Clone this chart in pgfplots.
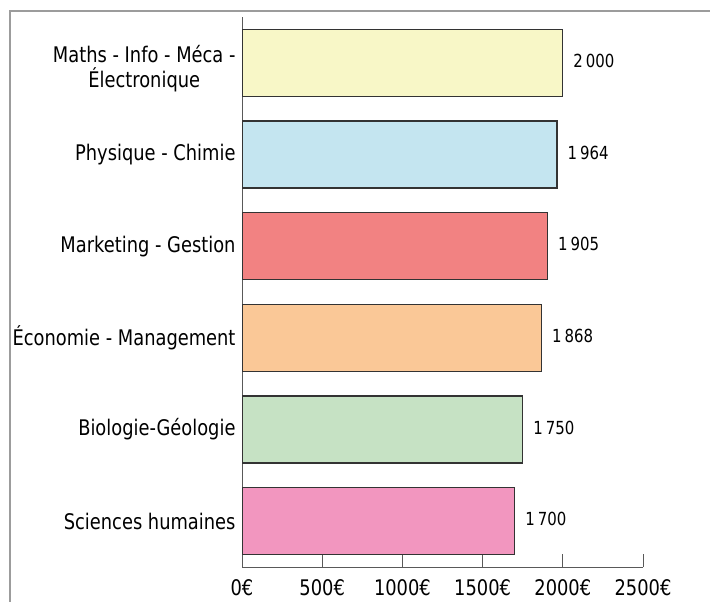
\documentclass[border=0pt]{standalone}
\usepackage{pgfplots}
\pgfplotsset{compat=1.18}
\usepackage{fontspec}
\setmainfont{DejaVu Sans}[FakeStretch=0.83]
\definecolor{cMath}{HTML}{F8F7C7}
\definecolor{cPhys}{HTML}{C4E5F0}
\definecolor{cMark}{HTML}{F28282}
\definecolor{cEco}{HTML}{FAC897}
\definecolor{cBio}{HTML}{C6E2C4}
\definecolor{cSci}{HTML}{F296BF}
\definecolor{framegray}{HTML}{9C9C9C}
\newcommand\lbl{\fontsize{21.5bp}{25bp}\selectfont}
\newcommand\vlbl{\fontsize{18bp}{21bp}\selectfont}
\begin{document}
\begin{tikzpicture}
\path[use as bounding box] (0,0) rectangle (710bp,-602bp);
\draw[color=framegray, line width=2.5bp] (10bp,-620bp) -- (10bp,-11bp) -- (720bp,-11bp);
\begin{axis}[
  at={(242bp,-567bp)}, anchor=south west,
  scale only axis, width=401bp, height=550bp,
  xmin=0, xmax=2500, ymin=-0.5, ymax=5.5,
  axis x line*=bottom, axis y line*=left,
  axis line style={draw=black!65, line width=1bp},
  xtick={0,500,1000,1500,2000,2500},
  xticklabels={0€,500€,1000€,1500€,2000€,2500€},
  xtick align=inside, ytick align=inside, major tick length=13bp,
  x tick style={draw=black!65, line width=1bp},
  xticklabel style={font=\lbl, yshift=-9bp},
  ytick={0,1,2,3,4,5},
  yticklabels={Sciences humaines, Biologie-Géologie, Économie - Management, Marketing - Gestion, Physique - Chimie, {\rule{0pt}{28bp}Maths - Info - Méca -\\Électronique}},
  y tick style={draw=none},
  yticklabel style={font=\lbl, align=center, xshift=10bp},
  xbar, bar width=0.73,
  point meta=x,
  nodes near coords,
  nodes near coords style={font=\vlbl, anchor=west, inner sep=0pt, xshift=10bp, yshift=2bp},
  /pgf/number format/.cd, fixed, precision=0, 1000 sep={\,}, assume math mode=true,
]
\addplot[bar shift=0pt, draw=black!80, line width=1.2bp, fill=cSci] coordinates {(1700,0)};
\addplot[bar shift=0pt, draw=black!80, line width=1.2bp, fill=cBio] coordinates {(1750,1)};
\addplot[bar shift=0pt, draw=black!80, line width=1.2bp, fill=cEco] coordinates {(1868,2)};
\addplot[bar shift=0pt, draw=black!80, line width=1.2bp, fill=cMark] coordinates {(1905,3)};
\addplot[bar shift=0pt, draw=black!80, line width=1.2bp, fill=cPhys] coordinates {(1964,4)};
\addplot[bar shift=0pt, draw=black!80, line width=1.2bp, fill=cMath] coordinates {(2000,5)};
\end{axis}
\end{tikzpicture}
\end{document}
